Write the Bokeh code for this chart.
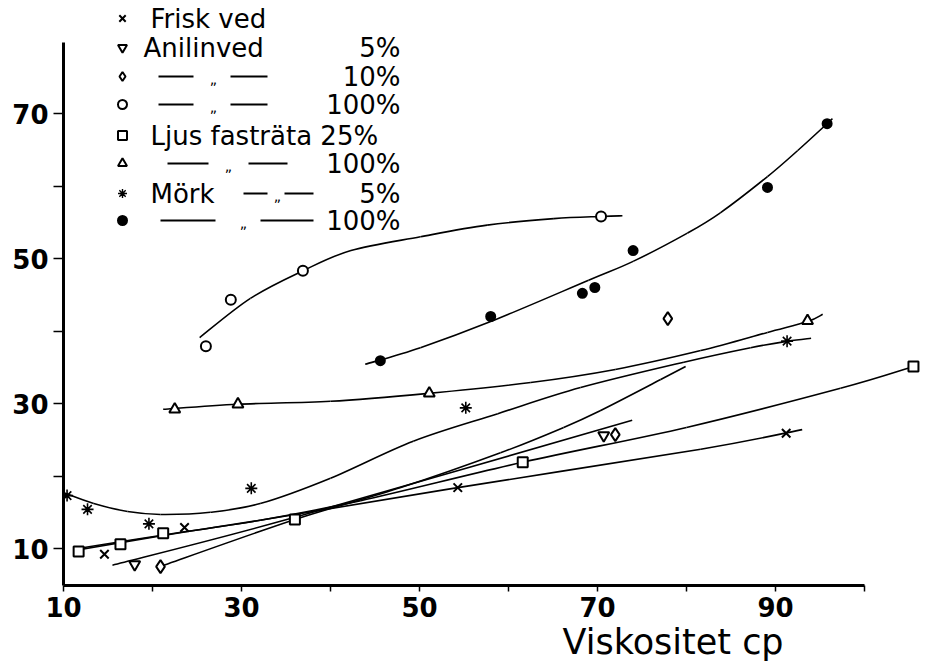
from bokeh.plotting import figure
from bokeh.models import FixedTicker, Label, Range1d, Title
from bokeh.embed import file_html
from bokeh.resources import INLINE

# ---- measured series (viscosity cp, value) ----
frisk_x = [14.6, 23.6, 54.3, 91.2]
frisk_y = [9.2, 12.9, 18.4, 25.9]

anil5_x = [18.0, 70.7]
anil5_y = [7.8, 25.6]

anil10_x = [20.9, 72.0, 77.9]
anil10_y = [7.5, 25.7, 41.7]

anil100_x = [26.0, 28.8, 36.9, 70.4]
anil100_y = [37.9, 44.3, 48.3, 55.8]

ljus25_x = [11.7, 16.4, 21.2, 36.0, 61.6, 105.5]
ljus25_y = [9.6, 10.6, 12.1, 14.0, 21.9, 35.1]

ljus100_x = [22.5, 29.6, 51.1, 93.6]
ljus100_y = [29.2, 29.9, 31.4, 41.4]

mork5_x = [10.4, 12.7, 19.6, 31.1, 55.2, 91.3]
mork5_y = [17.3, 15.4, 13.4, 18.3, 29.4, 38.6]

mork100_x = [45.6, 58.0, 68.3, 69.7, 74.0, 89.1, 95.8]
mork100_y = [35.9, 42.0, 45.2, 46.0, 51.1, 59.8, 68.6]

# ---- hand-drawn fitted curves (nodes along each curve) ----
frisk_fit_x = [11.1, 21.2, 32.1, 54.3, 81.6, 93.0]
frisk_fit_y = [9.7, 11.8, 13.9, 18.4, 23.7, 26.4]

anil5_fit_x = [15.5, 36.0, 73.9]
anil5_fit_y = [7.7, 14.3, 27.7]

anil10_fit_x = [20.6, 36.0, 47.9, 59.1, 66.2, 70.3, 77.1, 79.9]
anil10_fit_y = [7.4, 14.0, 18.4, 23.2, 26.7, 29.0, 33.3, 35.1]

anil100_fit_x = [25.3, 31.0, 36.9, 42.3, 50.1, 57.6, 65.1, 70.5, 72.8]
anil100_fit_y = [39.1, 44.5, 48.3, 51.1, 53.0, 54.6, 55.5, 55.8, 55.9]

ljus25_fit_x = [11.1, 20.9, 32.1, 43.4, 61.6, 80.0, 97.3, 105.5]
ljus25_fit_y = [9.9, 11.8, 13.9, 16.6, 21.9, 26.7, 32.1, 35.1]

ljus100_fit_x = [21.2, 29.6, 40.0, 51.0, 62.5, 72.0, 81.6, 89.1, 93.6, 95.3]
ljus100_fit_y = [29.2, 29.9, 30.3, 31.4, 32.9, 34.7, 37.3, 39.8, 41.3, 42.3]

mork5_fit_x = [10.0, 13.4, 17.2, 20.9, 26.5, 32.1, 40.0, 49.3,
               58.8, 68.1, 79.7, 87.2, 91.4, 94.0]
mork5_fit_y = [17.7, 16.2, 15.1, 14.7, 15.0, 16.2, 19.7, 24.8,
               28.6, 32.2, 35.7, 37.7, 38.6, 39.0]

mork100_fit_x = [43.9, 50.1, 58.0, 69.0, 74.0, 80.1, 83.8, 89.1, 92.5, 95.8, 96.4]
mork100_fit_y = [35.4, 37.7, 41.3, 47.0, 49.6, 53.5, 56.3, 61.3, 64.9, 68.6, 69.3]

# ---- axes ----
x_ticks = [10, 20, 30, 40, 50, 60, 70, 80, 90, 100]
x_labels = {10: "10", 30: "30", 50: "50", 70: "70", 90: "90"}
y_ticks = [10, 20, 30, 40, 50, 60, 70]
y_labels = {10: "10", 30: "30", 50: "50", 70: "70"}
x_title = "Viskositet cp"

# ---- legend entries: (marker, name, dittos, percent) ----
legend_rows = [
    ("x", "Frisk ved", None, ""),
    ("inverted_triangle", "Anilinved", None, "5%"),
    ("diamond", "", "a", "10%"),
    ("circle", "", "a", "100%"),
    ("square", "Ljus fasträta 25%", None, ""),
    ("triangle", "", "b", "100%"),
    ("asterisk", "Mörk", "c", "5%"),
    ("circle_x", "", "d", "100%"),
]

# pixel geometry of the plotting frame
FRAME_L, FRAME_B, W, H = 63, 83, 927, 668
PX_PER_X = 8.9
PX_PER_Y = 7.25
X_START = 10.0
Y10_PX = 548.0  # row of value 10, counted from the top
Y_START = 10 - ((H - FRAME_B) - Y10_PX) / PX_PER_Y
Y_END = 10 + Y10_PX / PX_PER_Y
X_END = X_START + (W - FRAME_L) / PX_PER_X


def dx(px):
    return X_START + (px - FRAME_L) / PX_PER_X


def dy(py):
    return 10 + (Y10_PX - py) / PX_PER_Y


def smooth_path(xs, ys):
    """Cubic Bezier pieces through the nodes (Catmull-Rom tangents)."""
    n = len(xs)
    x0, y0, x1, y1, cx0, cy0, cx1, cy1 = ([] for _ in range(8))
    for i in range(n - 1):
        ip, inn = max(i - 1, 0), min(i + 2, n - 1)
        x0.append(xs[i]); y0.append(ys[i])
        x1.append(xs[i + 1]); y1.append(ys[i + 1])
        cx0.append(xs[i] + (xs[i + 1] - xs[ip]) / 6)
        cy0.append(ys[i] + (ys[i + 1] - ys[ip]) / 6)
        cx1.append(xs[i + 1] - (xs[inn] - xs[i]) / 6)
        cy1.append(ys[i + 1] - (ys[inn] - ys[i]) / 6)
    return dict(x0=x0, y0=y0, x1=x1, y1=y1, cx0=cx0, cy0=cy0, cx1=cx1, cy1=cy1)


p = figure(width=W, height=H, output_backend="svg", toolbar_location=None,
           x_range=Range1d(X_START, X_END), y_range=Range1d(Y_START, Y_END),
           min_border_left=FRAME_L, min_border_right=0, min_border_top=0,
           min_border_bottom=FRAME_B)
p.outline_line_color = None
p.grid.visible = False
p.background_fill_color = "white"
p.border_fill_color = "white"

for ax in (p.xaxis[0], p.yaxis[0]):
    ax.axis_line_width = 3
    ax.axis_line_color = "black"
    ax.major_tick_line_width = 1.5
    ax.major_tick_line_color = "black"
    ax.major_tick_in = 0
    ax.minor_tick_out = 0
    ax.minor_tick_in = 0
    ax.major_label_text_font = "DejaVu Sans"
    ax.major_label_text_font_style = "bold"
    ax.major_label_text_font_size = "26px"
    ax.major_label_text_color = "black"

p.xaxis.ticker = FixedTicker(ticks=x_ticks)
p.xaxis.major_label_overrides = {t: x_labels.get(t, "") for t in x_ticks}
p.xaxis.bounds = (10, 100)
p.xaxis.major_tick_out = 6
p.xaxis.major_label_standoff = 5

p.yaxis.ticker = FixedTicker(ticks=y_ticks)
p.yaxis.major_label_overrides = {t: y_labels.get(t, "") for t in y_ticks}
p.yaxis.bounds = (Y_START, 79.8)
p.yaxis.major_tick_out = 10
p.yaxis.major_label_standoff = 5

# axis title, set right of centre under the axis
p.add_layout(Title(text=x_title, align="left", offset=562 - FRAME_L,
                   standoff=0, text_font="DejaVu Sans", text_font_size="35px",
                   text_font_style="normal", text_color="black"), "below")

# fitted curves
LW = 1.6
for fx, fy in [(frisk_fit_x, frisk_fit_y), (anil5_fit_x, anil5_fit_y),
               (anil10_fit_x, anil10_fit_y), (anil100_fit_x, anil100_fit_y),
               (ljus25_fit_x, ljus25_fit_y), (ljus100_fit_x, ljus100_fit_y),
               (mork5_fit_x, mork5_fit_y), (mork100_fit_x, mork100_fit_y)]:
    p.bezier(source=smooth_path(fx, fy), x0="x0", y0="y0", x1="x1", y1="y1",
             cx0="cx0", cy0="cy0", cx1="cx1", cy1="cy1",
             line_color="black", line_width=LW)

# measured points
series = [
    (frisk_x, frisk_y, "x", 12, "white", 2),
    (anil5_x, anil5_y, "inverted_triangle", 11, "white", 2),
    (anil10_x, anil10_y, "diamond", 13, "white", 2),
    (anil100_x, anil100_y, "circle", 10, "white", 2),
    (ljus25_x, ljus25_y, "square", 10, "white", 2),
    (ljus100_x, ljus100_y, "triangle", 11, "white", 2),
    (mork5_x, mork5_y, "asterisk", 12, "white", 1.6),
    (mork100_x, mork100_y, "circle_x", 9, "black", 2),
]
for sx, sy, mk, sz, fc, lw in series:
    p.scatter(sx, sy, marker=mk, size=sz, line_color="black", line_width=lw,
              fill_color=fc)

# legend block
ROW_PY = [18, 47, 76, 104, 135, 163, 193, 220]
MARK_PX = 122
PCT_RIGHT_PX = 400
DITTO = {
    "a": (158, 193, 213, 230, 267),
    "b": (167, 208, 228, 248, 287),
    "c": (243, 267, 277, 284, 313),
    "d": (160, 215, 243, 260, 313),
}
LEG_FONT = "DejaVu Sans"
LEG_SIZE = "26px"
for (mk, name, ditto, pct), py in zip(legend_rows, ROW_PY):
    fc = "black" if mk == "circle_x" else "white"
    lw = 1.4 if mk == "asterisk" else 2
    p.scatter([dx(MARK_PX)], [dy(py)], marker=mk, size=9, line_color="black",
              line_width=lw, fill_color=fc)
    if name:
        left = 143 if name == "Anilinved" else 150
        p.add_layout(Label(x=dx(left), y=dy(py), text=name,
                           text_font=LEG_FONT, text_font_size=LEG_SIZE,
                           text_baseline="middle", text_align="left",
                           text_color="black"))
    if pct:
        p.add_layout(Label(x=dx(PCT_RIGHT_PX), y=dy(py), text=pct,
                           text_font=LEG_FONT, text_font_size=LEG_SIZE,
                           text_baseline="middle", text_align="right",
                           text_color="black"))
    if ditto:
        a0, a1, mid, b0, b1 = DITTO[ditto]
        p.segment(x0=[dx(a0), dx(b0)], y0=[dy(py), dy(py)],
                  x1=[dx(a1), dx(b1)], y1=[dy(py), dy(py)],
                  line_color="black", line_width=2)
        p.add_layout(Label(x=dx(mid), y=dy(py + 2), text="\u201e",
                           text_font=LEG_FONT, text_font_size="14px",
                           text_baseline="middle", text_align="center",
                           text_color="black"))

open("out.html", "w").write(file_html(p, INLINE))
